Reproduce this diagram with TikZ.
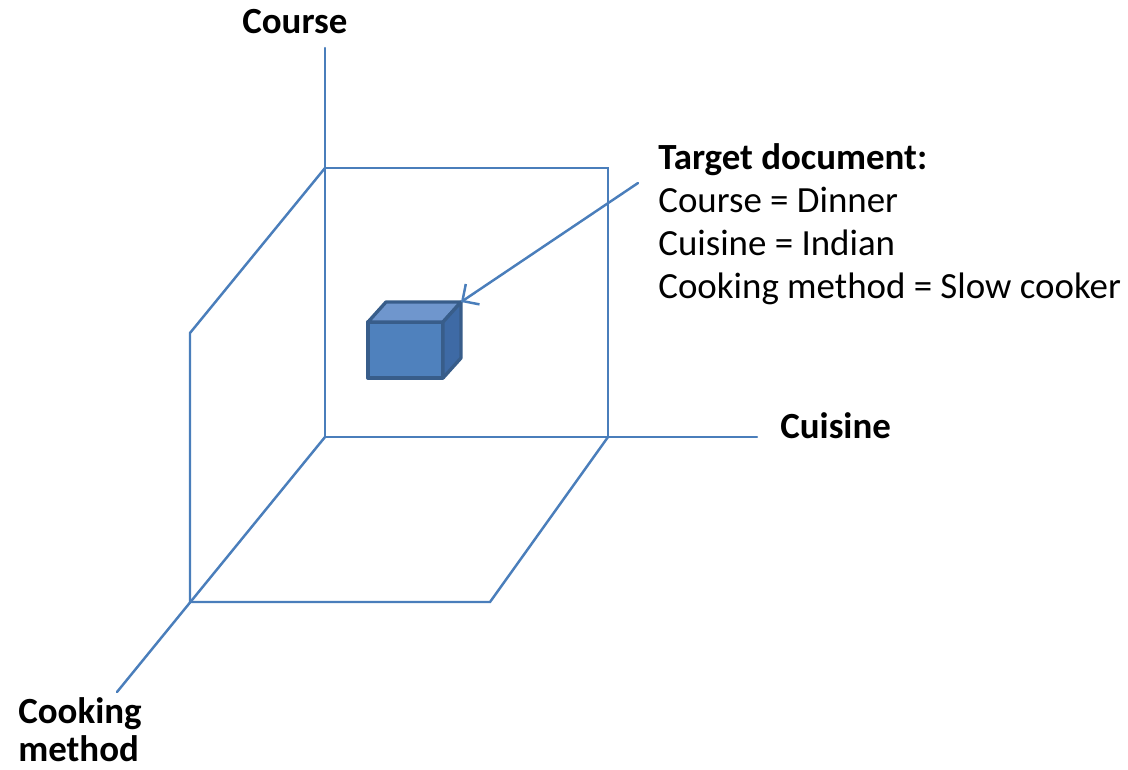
\documentclass[tikz,border=0pt]{standalone}
\usepackage{fontspec}
\setmainfont{Carlito}
\usetikzlibrary{arrows.meta}
\definecolor{axisblue}{RGB}{74,126,187}
\definecolor{cubefront}{RGB}{79,129,189}
\definecolor{cubetop}{RGB}{111,150,205}
\definecolor{cubeside}{RGB}{62,106,165}
\definecolor{cubeedge}{RGB}{56,93,138}

\begin{document}
\begin{tikzpicture}[x=0.02cm, y=-0.02cm,
    axisline/.style={line width=1.4pt, draw=axisblue, line cap=round},
    cubeface/.style={line width=1.9pt, draw=cubeedge, line join=round},
    lbl/.style={font=\fontsize{21}{24}\selectfont, anchor=base west, inner sep=0pt}]
    \useasboundingbox (0,0) rectangle (1128,769);
    % axes
    \coordinate (origin) at (325,437);
    \coordinate (coursetop) at (325,48);
    \coordinate (cuisineend) at (757,437);
    \coordinate (cookend) at (117,692);
    % planes
    \coordinate (backtl) at (325,168);
    \coordinate (backtr) at (608,168);
    \coordinate (backbr) at (608,437);
    \coordinate (lefttop) at (190,333);
    \coordinate (leftbot) at (190,602);
    \coordinate (floorbr) at (490,602);
    \draw[axisline] (origin) -- (coursetop);
    \draw[axisline] (origin) -- (cuisineend);
    \draw[axisline] (origin) -- (cookend);
		\draw[axisline] (backtl) -- (backtr) -- (backbr);
		\draw[axisline] (backtl) -- (lefttop) -- (leftbot);
		\draw[axisline] (leftbot) -- (floorbr) -- (backbr);
    % cube
    \coordinate (fa) at (368,322);
    \coordinate (fb) at (443,322);
    \coordinate (fc) at (443,378);
    \coordinate (fd) at (368,378);
    \coordinate (ba) at (386,302);
    \coordinate (bb) at (461,302);
    \coordinate (bc) at (461,358);
    \filldraw[cubeface, fill=cubefront] (fa) -- (fb) -- (fc) -- (fd) -- cycle;
    \filldraw[cubeface, fill=cubetop] (fa) -- (ba) -- (bb) -- (fb) -- cycle;
    \filldraw[cubeface, fill=cubeside] (fb) -- (bb) -- (bc) -- (fc) -- cycle;
    % labels
    \node[lbl, font=\fontsize{21}{24}\selectfont\bfseries] (coursel) at (242,33) {Course};
    \node[lbl, font=\fontsize{21}{24}\selectfont\bfseries] (cuisinel) at (780,438) {Cuisine};
    \node[lbl, font=\fontsize{21}{24}\selectfont\bfseries] (cookl1) at (18,723) {Cooking};
    \node[lbl, font=\fontsize{21}{24}\selectfont\bfseries] (cookl2) at (18,761) {method};
    \node[lbl, font=\fontsize{21}{24}\selectfont\bfseries] (t1) at (658,169) {Target document:};
    \node[lbl] (t2) at (658,212) {Course = Dinner};
    \node[lbl] (t3) at (658,255) {Cuisine = Indian};
    \node[lbl] (t4) at (658,298) {Cooking method = Slow cooker};
    \coordinate (arrowtail) at (638,183);
    \draw[axisline, -{Straight Barb[length=7pt, width=14pt]}] (arrowtail) -- (bb);
\end{tikzpicture}
\end{document}
